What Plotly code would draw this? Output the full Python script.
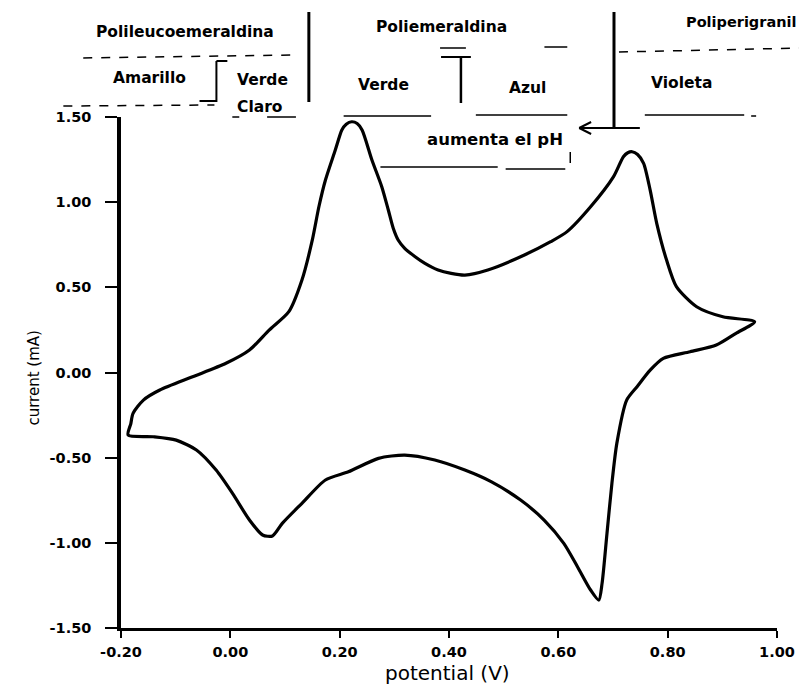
import plotly.graph_objects as go

# ---- data ----
potential_V = [
    -0.187, -0.182, -0.178, -0.159, -0.129, -0.069, -0.008, 0.035, 0.071, 0.107,
    0.131, 0.150, 0.162, 0.174, 0.192, 0.204, 0.212, 0.222, 0.232, 0.241,
    0.259, 0.277, 0.289, 0.298, 0.307, 0.319, 0.338, 0.356, 0.380, 0.404,
    0.429, 0.471, 0.538, 0.586, 0.616, 0.659, 0.701, 0.719, 0.727, 0.735,
    0.745, 0.756, 0.768, 0.780, 0.798, 0.816, 0.853, 0.901, 0.959,
    0.925, 0.889, 0.841, 0.792, 0.768, 0.744, 0.725, 0.707, 0.698, 0.689,
    0.680, 0.674, 0.659, 0.635, 0.610, 0.574, 0.531, 0.477, 0.429, 0.374,
    0.319, 0.271, 0.216, 0.174, 0.131, 0.095, 0.077, 0.059, 0.035, 0.004,
    -0.026, -0.062, -0.099, -0.141, -0.187,
]
current_mA = [
    -0.367, -0.300, -0.240, -0.162, -0.103, -0.025, 0.054, 0.132, 0.249, 0.357,
    0.543, 0.778, 0.973, 1.130, 1.306, 1.424, 1.458, 1.472, 1.462, 1.424,
    1.248, 1.091, 0.954, 0.847, 0.778, 0.729, 0.680, 0.641, 0.602, 0.582,
    0.572, 0.602, 0.690, 0.768, 0.827, 0.973, 1.150, 1.267, 1.290, 1.296,
    1.280, 1.228, 1.071, 0.876, 0.660, 0.504, 0.386, 0.327, 0.298,
    0.230, 0.161, 0.122, 0.083, 0.014, -0.083, -0.162, -0.416, -0.651, -0.944,
    -1.238, -1.336, -1.277, -1.140, -1.003, -0.866, -0.749, -0.641, -0.573, -0.514,
    -0.485, -0.504, -0.583, -0.631, -0.768, -0.886, -0.960, -0.954, -0.866, -0.710,
    -0.573, -0.455, -0.397, -0.377, -0.367,
]

x_tick_vals = [-0.2, 0.0, 0.2, 0.4, 0.6, 0.8, 1.0]
x_tick_text = ["-0.20", "0.00", "0.20", "0.40", "0.60", "0.80", "1.00"]
y_tick_vals = [-1.5, -1.0, -0.5, 0.0, 0.5, 1.0, 1.5]
y_tick_text = ["-1.50", "-1.00", "-0.50", "0.00", "0.50", "1.00", "1.50"]

# ---- layout geometry (screen pixels; page body adds an 8px offset) ----
OFF = 8
SW, SH = 807, 689
X0, X1, Y0, Y1 = 121, 781, 117, 628   # plot area on screen
W, H = SW - OFF, SH - OFF


def px(x):
    return (x - X0) / (X1 - X0)


def py(y):
    return (Y1 - y) / (Y1 - Y0)


FONT = "DejaVu Sans"

fig = go.Figure()
fig.add_trace(go.Scatter(
    x=potential_V, y=current_mA, mode="lines",
    line=dict(color="black", width=3.2, shape="spline", smoothing=0.7),
    hoverinfo="skip", showlegend=False,
))

labels = [
    ("Polileucoemeraldina", 185, 32, "center", 15.5),
    ("Amarillo", 150, 78, "center", 15.5),
    ("Verde", 263, 80, "center", 15.5),
    ("Claro", 260, 107, "center", 15.5),
    ("Poliemeraldina", 443, 27, "center", 15.5),
    ("Verde", 385, 85, "center", 15.5),
    ("Azul", 530, 88, "center", 15.5),
    ("aumenta el pH", 497, 139, "center", 16.5),
    ("Violeta", 685, 83, "center", 15.5),
    ("Poliperigranil", 687, 22, "left", 14.5),
]
annotations = []
for txt, x, y, anc, fs in labels:
    annotations.append(dict(
        text=txt, x=px(x), y=py(y), xref="paper", yref="paper",
        xanchor=anc, yanchor="middle", showarrow=False,
        font=dict(family=FONT, size=fs, color="black", weight="bold"),
    ))
annotations.append(dict(
    text="potential (V)", x=px(449), y=py(673), xref="paper", yref="paper",
    xanchor="center", yanchor="middle", showarrow=False,
    font=dict(family=FONT, size=20, color="black"),
))
annotations.append(dict(
    text="current (mA)", x=px(33), y=py(378), xref="paper", yref="paper",
    xanchor="center", yanchor="middle", showarrow=False, textangle=-90,
    font=dict(family=FONT, size=15, color="black"),
))

segments = [
    # left block
    (83, 58, 297, 55, 1.5, "dash"),
    (217, 61, 217, 102, 2, "solid"),
    (217, 61, 228, 61, 2, "solid"),
    (200, 101, 217, 101, 2, "solid"),
    (63, 106, 215, 105, 1.5, "dash"),
    (233, 117, 240, 117, 1.5, "solid"),
    (268, 117, 297, 117, 1.5, "solid"),
    (310, 12, 310, 102, 3, "solid"),
    # middle block
    (442, 48, 468, 48, 1.5, "solid"),
    (443, 57, 473, 57, 2, "solid"),
    (463, 57, 463, 103, 2.5, "solid"),
    (547, 47, 570, 47, 1.5, "solid"),
    (345, 116, 433, 116, 1.5, "solid"),
    (478, 115, 570, 115, 1.5, "solid"),
    (382, 167, 500, 167, 1.5, "solid"),
    (508, 169, 568, 169, 1.5, "solid"),
    (573, 152, 573, 163, 1.5, "solid"),
    (617, 12, 617, 127, 3, "solid"),
    (582, 128, 643, 128, 2, "solid"),
    (582, 128, 594, 122, 2, "solid"),
    (582, 128, 594, 134, 2, "solid"),
    # right block
    (622, 52, 807, 48, 1.5, "dash"),
    (648, 115, 748, 115, 1.5, "solid"),
    (755, 116, 760, 116, 1.5, "solid"),
]
shapes = []
for x0, y0, x1, y1, w, d in segments:
    shapes.append(dict(
        type="line", xref="paper", yref="paper",
        x0=px(x0), y0=py(y0), x1=px(x1), y1=py(y1),
        line=dict(color="black", width=w, dash=d),
    ))

fig.update_layout(
    width=W, height=H,
    margin=dict(l=X0 - OFF, r=SW - X1, t=Y0 - OFF, b=SH - Y1),
    paper_bgcolor="white", plot_bgcolor="white",
    annotations=annotations, shapes=shapes,
    xaxis=dict(
        range=[-0.2, 1.0], tickvals=x_tick_vals, ticktext=x_tick_text,
        showgrid=False, zeroline=False, showline=True, linecolor="black",
        linewidth=2.5, ticks="outside", ticklen=7, tickwidth=2,
        tickcolor="black", ticklabelstandoff=2,
        tickfont=dict(family=FONT, size=14.5, color="black", weight="bold"),
    ),
    yaxis=dict(
        range=[-1.5, 1.5], tickvals=y_tick_vals, ticktext=y_tick_text,
        showgrid=False, zeroline=False, showline=True, linecolor="black",
        linewidth=3.5, ticks="outside", ticklen=12, tickwidth=2,
        tickcolor="black", ticklabelstandoff=11,
        tickfont=dict(family=FONT, size=14.5, color="black", weight="bold"),
    ),
)

fig.write_html("out.html")
